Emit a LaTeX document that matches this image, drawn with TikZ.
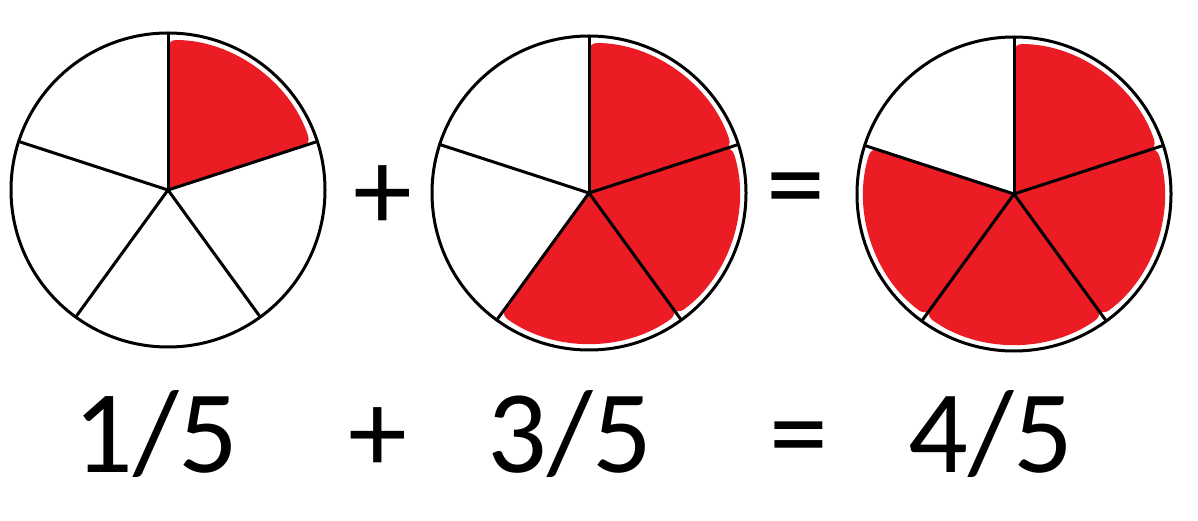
\documentclass[tikz,border=0pt]{standalone}
\usepackage{fontspec}
\setmainfont{Carlito}
\usetikzlibrary{backgrounds}
\definecolor{paintred}{HTML}{EC1C24}
\tikzset{
	wheel/.style={circle, draw, line width=3pt, minimum size=314pt, inner sep=0pt, outer sep=0pt},
	spoke/.style={line width=3pt},
	slice/.style={fill=paintred, draw=paintred, line width=2pt, rounded corners=8pt},
	sumtext/.style={font=\fontsize{118}{118}\selectfont, inner sep=0pt, anchor=base}
}
\begin{document}
\begin{tikzpicture}[x=1pt,y=1pt]
		\useasboundingbox (0,0) rectangle (1198,520);
		\node[wheel] (pieone) at (168,330) {};
		\node[wheel] (pietwo) at (589,327) {};
		\node[wheel] (piethree) at (1014,326) {};
		\foreach \p in {pieone,pietwo,piethree}
			\foreach \a in {90,18,-54,-126,-198}
				\draw[spoke] (\p.center) -- (\p.\a);
		\begin{scope}[on background layer]
			\foreach \p/\a in {pieone/90,pietwo/90,pietwo/18,pietwo/-54,piethree/90,piethree/18,piethree/-54,piethree/-126}
				\fill[slice] (\p.center) -- ++(\a:149) arc[start angle=\a, end angle=\a-72, radius=149] -- cycle;
		\end{scope}
		\node[sumtext] (plustop) at (383,290) {+};
		\node[sumtext] (eqtop) at (796,296) {=};
		\node[sumtext] (fracone) at (156,48) {1/5};
		\node[sumtext] (plusbot) at (378,48) {+};
		\node[sumtext] (fractwo) at (570,48) {3/5};
		\node[sumtext] (eqbot) at (799,48) {=};
		\node[sumtext] (fracthree) at (991,48) {4/5};
	\end{tikzpicture}
\end{document}
